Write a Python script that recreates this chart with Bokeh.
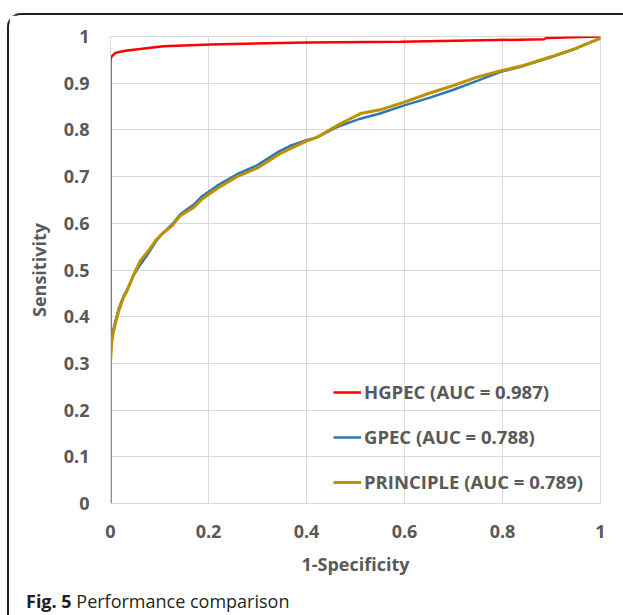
from bokeh.plotting import figure
from bokeh.models import Range1d, Legend, LegendItem, FixedTicker, Column, InlineStyleSheet, Div
from bokeh.embed import file_html
from bokeh.resources import INLINE

# HGPEC
hgpec_x = [0, 0, 0.002, 0.01, 0.027, 0.06, 0.108, 0.204, 0.4, 0.592, 0.884, 0.89, 1.0]
hgpec_y = [0, 0.95, 0.957, 0.965, 0.969, 0.973, 0.979, 0.983, 0.987, 0.989, 0.994, 0.997, 1.0]

# GPEC
gpec_x = [0, 0, 0.002, 0.005, 0.01, 0.017, 0.027, 0.034, 0.048, 0.061, 0.075, 0.092, 0.102,
          0.126, 0.143, 0.17, 0.187, 0.217, 0.258, 0.299, 0.346, 0.367, 0.4, 0.421, 0.462,
          0.51, 0.55, 0.598, 0.652, 0.70, 0.748, 0.795, 0.843, 0.897, 0.945, 1.0]
gpec_y = [0, 0.31, 0.35, 0.37, 0.39, 0.418, 0.445, 0.458, 0.49, 0.512, 0.532, 0.56, 0.574,
          0.598, 0.62, 0.64, 0.658, 0.68, 0.705, 0.724, 0.755, 0.766, 0.778, 0.784, 0.806,
          0.824, 0.835, 0.852, 0.869, 0.886, 0.905, 0.924, 0.937, 0.955, 0.972, 0.997]

# PRINCIPLE
principle_x = [0, 0, 0.002, 0.005, 0.01, 0.017, 0.027, 0.034, 0.048, 0.061, 0.075, 0.092, 0.102,
               0.126, 0.143, 0.17, 0.187, 0.217, 0.258, 0.299, 0.346, 0.367, 0.4, 0.421, 0.462,
               0.51, 0.55, 0.598, 0.652, 0.70, 0.748, 0.795, 0.843, 0.897, 0.945, 1.0]
principle_y = [0, 0.30, 0.34, 0.363, 0.385, 0.413, 0.442, 0.456, 0.492, 0.52, 0.538, 0.563, 0.574,
               0.595, 0.617, 0.634, 0.652, 0.674, 0.700, 0.718, 0.749, 0.76, 0.776, 0.784, 0.809,
               0.835, 0.843, 0.859, 0.879, 0.895, 0.913, 0.926, 0.938, 0.956, 0.973, 0.996]

series_labels = ["HGPEC (AUC = 0.987)", "GPEC (AUC = 0.788)", "PRINCIPLE (AUC = 0.789)"]
x_ticks = [0, 0.2, 0.4, 0.6, 0.8, 1]
x_tick_labels = ["0", "0.2", "0.4", "0.6", "0.8", "1"]
y_ticks = [0, 0.1, 0.2, 0.3, 0.4, 0.5, 0.6, 0.7, 0.8, 0.9, 1]
y_tick_labels = ["0", "0.1", "0.2", "0.3", "0.4", "0.5", "0.6", "0.7", "0.8", "0.9", "1"]
caption_bold = "Fig. 5"
caption_text = "Performance comparison"

FONT = "Open Sans"
GREY = "#595959"

p = figure(width=614, height=570, output_backend="svg", toolbar_location=None,
           x_range=Range1d(0, 1), y_range=Range1d(0, 1))
p.min_border_left = 101
p.min_border_right = 23
p.min_border_top = 21
p.min_border_bottom = 82
p.background_fill_color = "white"
p.border_fill_color = "white"
p.outline_line_color = "#d9d9d9"

p.xaxis.ticker = FixedTicker(ticks=x_ticks)
p.yaxis.ticker = FixedTicker(ticks=y_ticks)
p.xaxis.major_label_overrides = {t: l for t, l in zip(x_ticks, x_tick_labels)}
p.yaxis.major_label_overrides = {t: l for t, l in zip(y_ticks, y_tick_labels)}
for ax in (p.xaxis, p.yaxis):
    ax.axis_line_color = "#d9d9d9"
    ax.major_tick_line_color = None
    ax.minor_tick_line_color = None
    ax.major_tick_out = 0
    ax.major_tick_in = 0
    ax.major_label_text_font = FONT
    ax.major_label_text_font_style = "bold"
    ax.major_label_text_font_size = "18px"
    ax.major_label_text_color = GREY
    ax.axis_label_text_font = FONT
    ax.axis_label_text_font_style = "bold"
    ax.axis_label_text_font_size = "18px"
    ax.axis_label_text_color = GREY
p.xaxis.axis_label = "1-Specificity"
p.yaxis.axis_label = "Sensitivity"
p.xaxis.major_label_standoff = 21
p.yaxis.major_label_standoff = 21
p.xaxis.axis_label_standoff = 11
p.yaxis.axis_label_standoff = 10

p.grid.grid_line_color = "#d9d9d9"
p.grid.grid_line_width = 1

r1 = p.line(hgpec_x, hgpec_y, line_color="#ff0000", line_width=2.5)
r2 = p.line(gpec_x, gpec_y, line_color="#2e75b6", line_width=2.5)
r3 = p.line(principle_x, principle_y, line_color="#bf9000", line_width=3)

legend = Legend(items=[LegendItem(label=series_labels[0], renderers=[r1]),
                       LegendItem(label=series_labels[1], renderers=[r2]),
                       LegendItem(label=series_labels[2], renderers=[r3])],
                location=(223, 9), orientation="vertical")
legend.background_fill_alpha = 0
legend.border_line_color = None
legend.label_text_font = FONT
legend.label_text_font_style = "bold"
legend.label_text_font_size = "18.5px"
legend.label_text_color = GREY
legend.glyph_width = 28
legend.glyph_height = 20
legend.label_height = 20
legend.spacing = 20
legend.padding = 0
legend.margin = 0
legend.label_standoff = 3
p.add_layout(legend, "center")

# caption
cap = Div(text=f"<b>{caption_bold}</b> {caption_text}", width=614, height=30,
          styles={"font-family": "'Open Sans', sans-serif", "font-size": "18px",
                  "color": "#231f20", "line-height": "22px", "padding-left": "12px",
                  "background": "white", "white-space": "nowrap"})

sheet = InlineStyleSheet(css=":host { border-top: 2px solid #231f20; border-left: 2px solid #231f20; "
                             "border-top-left-radius: 14px; background: white; }")
layout = Column(children=[p, cap], margin=(13, 0, 0, 7), spacing=0, stylesheets=[sheet])

open("out.html", "w").write(file_html(layout, INLINE))
